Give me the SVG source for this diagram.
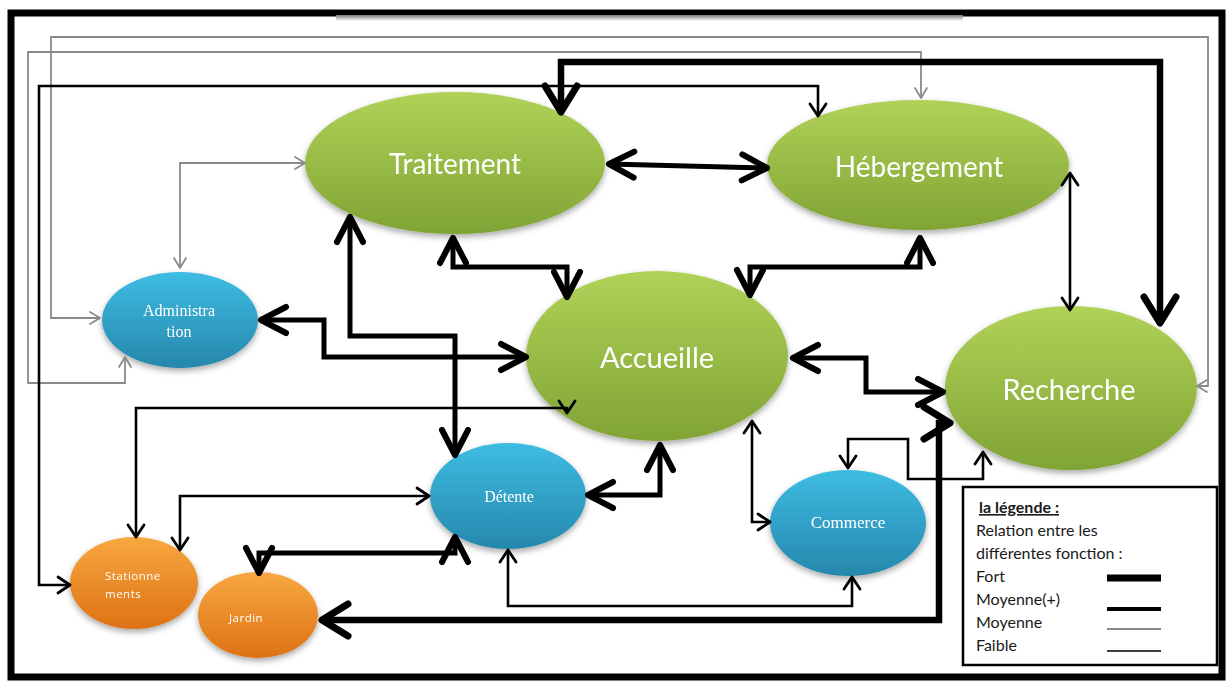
<svg xmlns="http://www.w3.org/2000/svg" width="1229" height="681" viewBox="0 0 1229 681">
  <style>
    .frame { fill: none; stroke: #000; stroke-width: 7; }
    .lbl-green { font-family: Lato, "Open Sans", sans-serif; fill: #fff; text-anchor: middle; }
    .lbl-blue { font-family: "Liberation Serif", serif; fill: #fff; text-anchor: middle; }
    .lbl-orange { font-family: "Open Sans", sans-serif; fill: #fff; font-size: 11.5px; letter-spacing: 0.5px; }
    .c { fill: none; stroke-linejoin: miter; stroke-linecap: butt; }
    .fort { stroke: #000; stroke-width: 6.5; marker-start: url(#aFort); marker-end: url(#aFort); }
    .thick { stroke: #000; stroke-width: 5; marker-start: url(#aThick); marker-end: url(#aThick); }
    .thin { stroke: #000; stroke-width: 2.6; marker-start: url(#aThin); marker-end: url(#aThin); }
    .gray { stroke: #8a8a8a; stroke-width: 1.8; marker-start: url(#aGray); marker-end: url(#aGray); }
    .leg { font-family: Lato, "Open Sans", sans-serif; font-size: 16px; fill: #1a1a1a; }
  </style>
  <defs>
    <linearGradient id="gGreen" x1="0" y1="0" x2="0" y2="1">
      <stop offset="0" stop-color="#b0d258"/>
      <stop offset="1" stop-color="#80a435"/>
    </linearGradient>
    <linearGradient id="gBlue" x1="0" y1="0" x2="0" y2="1">
      <stop offset="0" stop-color="#3ebce2"/>
      <stop offset="1" stop-color="#2687ac"/>
    </linearGradient>
    <linearGradient id="gOrange" x1="0" y1="0" x2="0" y2="1">
      <stop offset="0" stop-color="#f8a740"/>
      <stop offset="1" stop-color="#dd7215"/>
    </linearGradient>
    <linearGradient id="gBand" x1="0" y1="0" x2="0" y2="1">
      <stop offset="0" stop-color="#7a7a7a"/>
      <stop offset="1" stop-color="#ffffff"/>
    </linearGradient>
    <filter id="shadow" x="-20%" y="-20%" width="140%" height="150%">
      <feDropShadow dx="0" dy="3" stdDeviation="3" flood-color="#000" flood-opacity="0.35"/>
    </filter>
    <marker id="aFort" markerUnits="userSpaceOnUse" orient="auto-start-reverse" refX="0" refY="0" markerWidth="1" markerHeight="1" overflow="visible">
      <path d="M-26,-16 L0,0 L-26,16" fill="none" stroke="#000" stroke-width="7" stroke-linecap="round" stroke-linejoin="round"/>
    </marker>
    <marker id="aThick" markerUnits="userSpaceOnUse" orient="auto-start-reverse" refX="0" refY="0" markerWidth="1" markerHeight="1" overflow="visible">
      <path d="M-25,-13 L0,0 L-25,13" fill="none" stroke="#000" stroke-width="6" stroke-linecap="round" stroke-linejoin="round"/>
    </marker>
    <marker id="aThin" markerUnits="userSpaceOnUse" orient="auto-start-reverse" refX="0" refY="0" markerWidth="1" markerHeight="1" overflow="visible">
      <path d="M-12,-8 L0,0 L-12,8" fill="none" stroke="#000" stroke-width="2.8" stroke-linecap="round" stroke-linejoin="round"/>
    </marker>
    <marker id="aGray" markerUnits="userSpaceOnUse" orient="auto-start-reverse" refX="0" refY="0" markerWidth="1" markerHeight="1" overflow="visible">
      <path d="M-10,-6 L0,0 L-10,6" fill="none" stroke="#8a8a8a" stroke-width="1.8" stroke-linecap="round" stroke-linejoin="round"/>
    </marker>
  </defs>

  <rect width="1229" height="681" fill="#fff"/>

  <!-- outer frame -->
  <g id="frame">
    <rect class="frame" x="11" y="13" width="1211" height="664"/>
    <rect x="336" y="15" width="627" height="6" fill="url(#gBand)"/>
  </g>

  <!-- functions -->
  <g id="traitement" filter="url(#shadow)">
    <ellipse cx="455" cy="163" rx="150" ry="71" fill="url(#gGreen)"/>
    <text class="lbl-green" x="455" y="174" font-size="28">Traitement</text>
  </g>
  <g id="hebergement" filter="url(#shadow)">
    <ellipse cx="918" cy="165" rx="151" ry="65" fill="url(#gGreen)"/>
    <text class="lbl-green" x="919" y="177" font-size="28">Hébergement</text>
  </g>
  <g id="accueille" filter="url(#shadow)">
    <ellipse cx="657" cy="356" rx="131" ry="85" fill="url(#gGreen)"/>
    <text class="lbl-green" x="657" y="368" font-size="29">Accueille</text>
  </g>
  <g id="recherche" filter="url(#shadow)">
    <ellipse cx="1071" cy="388" rx="126" ry="82" fill="url(#gGreen)"/>
    <text class="lbl-green" x="1069" y="400" font-size="29">Recherche</text>
  </g>
  <g id="administration" filter="url(#shadow)">
    <ellipse cx="180" cy="320" rx="78" ry="48" fill="url(#gBlue)"/>
    <text class="lbl-blue" x="179" y="316" font-size="16">Administra</text>
    <text class="lbl-blue" x="179" y="337" font-size="16">tion</text>
  </g>
  <g id="detente" filter="url(#shadow)">
    <ellipse cx="508" cy="496" rx="78" ry="53" fill="url(#gBlue)"/>
    <text class="lbl-blue" x="509" y="502" font-size="16">Détente</text>
  </g>
  <g id="commerce" filter="url(#shadow)">
    <ellipse cx="848" cy="523" rx="78" ry="53" fill="url(#gBlue)"/>
    <text class="lbl-blue" x="848" y="528" font-size="17">Commerce</text>
  </g>
  <g id="stationnements" filter="url(#shadow)">
    <ellipse cx="134" cy="583" rx="64" ry="46" fill="url(#gOrange)"/>
    <text class="lbl-orange" x="105" y="580">Stationne</text>
    <text class="lbl-orange" x="105" y="598">ments</text>
  </g>
  <g id="jardin" filter="url(#shadow)">
    <ellipse cx="258" cy="615" rx="60" ry="43" fill="url(#gOrange)"/>
    <text class="lbl-orange" x="229" y="622">Jardin</text>
  </g>

  <!-- relations -->
  <g id="connectors">
    <!-- weak grey links -->
    <path class="c gray" d="M1197,386 H1208 V37 H51 V318 H100"/>
    <path class="c gray" d="M921,98 V52 H28 V383 H125 V357"/>
    <path class="c gray" d="M180,268 V163 H305"/>
    <!-- thin black links -->
    <path class="c thin" d="M818,116 V86 H39 V585 H70"/>
    <path class="c thin" d="M1070,173 V310"/>
    <path class="c thin" d="M567,413 V408 H136 V537"/>
    <path class="c thin" d="M429,496 H180 V550"/>
    <path class="c thin" d="M752,421 V522 H770"/>
    <path class="c thin" d="M848,468 V439 H908 V479 H983 V452"/>
    <path class="c thin" d="M508,550 V606 H852 V577"/>
    <!-- strong links -->
    <path class="c thick" d="M609,164 L767,168"/>
    <path class="c thick" d="M453,238 V267 H567 V297"/>
    <path class="c thick" d="M920,238 V267 H750 V295"/>
    <path class="c thick" d="M261,320 H324 V357 H526"/>
    <path class="c thick" d="M350,217 V336 H455 V455"/>
    <path class="c thick" d="M793,358 H866 V392 H943"/>
    <path class="c thick" d="M588,495 H660 V445"/>
    <path class="c thick" d="M259,573 V553 H455 V537"/>
    <path class="c fort" d="M561,112 V62 H1160 V323"/>
    <path class="c fort" d="M322,620 H939 V423 H950"/>
  </g>

  <!-- legend -->
  <g id="legend">
    <rect x="963" y="487" width="254" height="178" fill="#fff" stroke="#000" stroke-width="2.5"/>
    <text class="leg" x="979" y="513" font-weight="bold" text-decoration="underline">la légende :</text>
    <text class="leg" x="976" y="536">Relation entre les</text>
    <text class="leg" x="976" y="559">différentes fonction :</text>
    <text class="leg" x="976" y="582">Fort</text>
    <text class="leg" x="976" y="605">Moyenne(+)</text>
    <text class="leg" x="976" y="628">Moyenne</text>
    <text class="leg" x="976" y="651">Faible</text>
    <line x1="1107" y1="578" x2="1161" y2="578" stroke="#000" stroke-width="7"/>
    <line x1="1107" y1="609" x2="1161" y2="609" stroke="#000" stroke-width="4"/>
    <line x1="1107" y1="629" x2="1161" y2="629" stroke="#8a8a8a" stroke-width="2"/>
    <line x1="1107" y1="651" x2="1161" y2="651" stroke="#000" stroke-width="1.3"/>
  </g>
</svg>
